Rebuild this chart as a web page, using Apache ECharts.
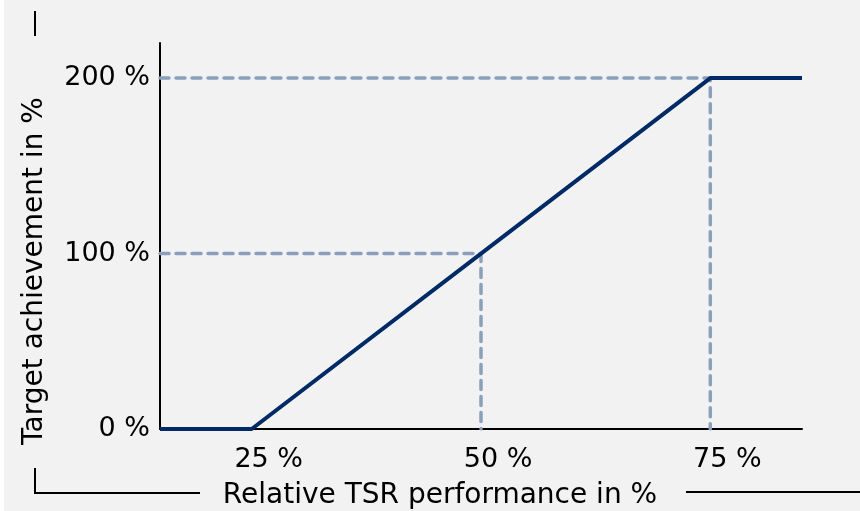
<!DOCTYPE html>
<html>
<head>
<meta charset="utf-8">
<script src="https://cdn.jsdelivr.net/npm/echarts@6/dist/echarts.min.js"></script>
<style>
  html, body { margin: 0; padding: 0; background: #ffffff; }
  #chart { width: 860px; height: 511px; }
</style>
</head>
<body>
<div id="chart"></div>
<script>
// Payout curve: relative TSR performance (x) vs. target achievement (y)
const tsrPerformance = [15, 25, 50, 75, 85];
const targetAchievement = [0, 0, 100, 200, 200];

// Dashed guide lines to the 100 % and 200 % levels
const guide100 = [[15, 100], [50, 100], [50, 0]];
const guide200 = [[15, 200], [75, 200], [75, 0]];

// Tick labels
const xTicks = [25, 50, 75];
const yTicks = [0, 100, 200];

const xTitle = 'Relative TSR performance in %';
const yTitle = 'Target achievement in %';

const FONT = 'DejaVu Sans';
const navy = '#002a66';
const guideColor = '#8c9fbd';

const chart = echarts.init(document.getElementById('chart'), null, { renderer: 'canvas' });

const guideStyle = {
  color: guideColor,
  width: 3.5,
  type: [9, 7],
  cap: 'round'
};

chart.setOption({
  backgroundColor: '#f2f2f2',
  animation: false,
  grid: { left: 160, right: 58, top: 43, bottom: 82 },
  xAxis: {
    type: 'value',
    min: 15,
    max: 85,
    axisLine: { show: true, lineStyle: { color: '#000', width: 2 } },
    axisTick: { show: false },
    splitLine: { show: false },
    axisLabel: {
      customValues: xTicks,
      formatter: '{value} %',
      color: '#000',
      fontFamily: FONT,
      fontSize: 27,
      margin: 17,
      padding: [0, 0, 0, 34]
    }
  },
  yAxis: {
    type: 'value',
    min: 0,
    max: 220,
    axisLine: { show: true, lineStyle: { color: '#000', width: 2 } },
    axisTick: { show: false },
    splitLine: { show: false },
    axisLabel: {
      customValues: yTicks,
      formatter: '{value} %',
      color: '#000',
      fontFamily: FONT,
      fontSize: 27,
      margin: 10
    }
  },
  series: [
    {
      type: 'line',
      data: guide100,
      symbol: 'none',
      lineStyle: guideStyle,
      z: 2
    },
    {
      type: 'line',
      data: guide200,
      symbol: 'none',
      lineStyle: guideStyle,
      z: 2
    },
    {
      type: 'line',
      data: tsrPerformance.map((x, i) => [x, targetAchievement[i]]),
      symbol: 'none',
      lineStyle: { color: navy, width: 4 },
      z: 3
    }
  ],
  graphic: [
    // white strip along the left edge
    { type: 'rect', left: 0, top: 0, shape: { width: 4, height: 511 }, style: { fill: '#ffffff' }, silent: true },
    // bracket strokes framing the titles
    { type: 'polyline', shape: { points: [[35, 11], [35, 36]] }, style: { stroke: '#000', lineWidth: 2, fill: null } },
    { type: 'polyline', shape: { points: [[35, 468], [35, 493], [200, 493]] }, style: { stroke: '#000', lineWidth: 2, fill: null } },
    { type: 'polyline', shape: { points: [[686, 492], [860, 492]] }, style: { stroke: '#000', lineWidth: 2, fill: null } },
    // axis titles
    {
      type: 'text',
      x: 440, y: 496,
      style: {
        text: xTitle,
        font: '28px "DejaVu Sans"',
        fill: '#000',
        align: 'center',
        verticalAlign: 'middle'
      }
    },
    {
      type: 'text',
      x: 35, y: 271,
      rotation: Math.PI / 2,
      style: {
        text: yTitle,
        font: '28px "DejaVu Sans"',
        fill: '#000',
        align: 'center',
        verticalAlign: 'middle'
      }
    }
  ]
});
</script>
</body>
</html>
